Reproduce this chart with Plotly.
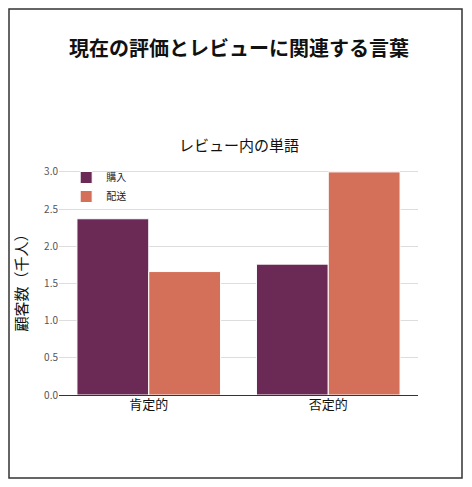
import plotly.graph_objects as go

categories = ["肯定的", "否定的"]
purchase = [2.37, 1.76]
delivery = [1.66, 3.0]
y_ticks = [0.0, 0.5, 1.0, 1.5, 2.0, 2.5, 3.0]

font = "Noto Sans CJK JP"
fig = go.Figure()
fig.add_bar(x=categories, y=purchase, name="購入", marker=dict(color="#6b2a55", line=dict(color="white", width=1)))
fig.add_bar(x=categories, y=delivery, name="配送", marker=dict(color="#d4705a", line=dict(color="white", width=1)))

fig.update_layout(
    width=456, height=471,
    margin=dict(l=51, r=46, t=155, b=84),
    paper_bgcolor="white", plot_bgcolor="white",
    font=dict(family=font, color="#222"),
    bargap=0.2, bargroupgap=0,
    showlegend=True,
    legend=dict(x=0.02, y=1.0, xanchor="left", yanchor="top", bgcolor="rgba(0,0,0,0)",
                font=dict(size=10), itemwidth=30, tracegroupgap=0),
    xaxis=dict(showline=False, ticks="", showgrid=False, tickfont=dict(size=13, color="#111")),
    yaxis=dict(range=[0, 3.12], tickvals=y_ticks, tickformat=".1f",
               gridcolor="#dddddd", zeroline=True, zerolinecolor="#333", zerolinewidth=1,
               tickfont=dict(size=10, color="#555"),
               title=dict(text="顧客数（千人）", font=dict(size=15, color="#111"), standoff=12)),
    annotations=[
        dict(text="<b>現在の評価とレビューに関連する言葉</b>", xref="paper", yref="paper",
             x=0.5, y=1.0, yshift=116, showarrow=False, font=dict(size=20, color="#111"),
             xanchor="center", yanchor="middle"),
        dict(text="レビュー内の単語", xref="paper", yref="paper", x=0.5, y=1.0, yshift=6,
             showarrow=False, font=dict(size=15, color="#111"), xanchor="center", yanchor="bottom"),
    ],
    shapes=[dict(type="rect", xref="paper", yref="paper",
                 x0=-50 / 359, x1=1 + 44 / 359, y0=-83 / 232, y1=1 + 154 / 232,
                 line=dict(color="#333", width=1.5))],
)
fig.write_html("out.html")
